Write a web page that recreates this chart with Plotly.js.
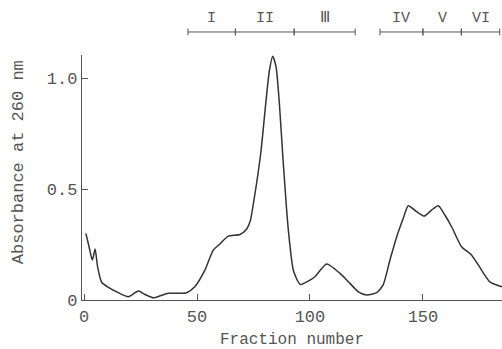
<!DOCTYPE html>
<html>
<head>
<meta charset="utf-8">
<script src="https://cdn.plot.ly/plotly-3.0.1.min.js"></script>
<style>html,body{margin:0;padding:0;background:#fff;}#chart{width:502px;height:349px;}</style>
</head>
<body>
<div id="chart"></div>
<script>
// Elution profile
const fraction = [0.8, 2, 3.7, 4.9, 6, 7.8, 10.8, 15.2, 19.6, 24, 27, 30.7, 34, 37.3, 42, 45.4, 49, 53.5, 57.2, 59.9, 63.7, 69, 72, 73.6, 75.1, 78.2, 80.5, 82, 83.5, 85, 86.5, 88.1, 90.4, 92.7, 95.7, 99.2, 102.2, 107.4, 113.3, 117.7, 121.4, 125.1, 129.5, 132.4, 135.4, 138.4, 141.3, 143.5, 147.2, 150.6, 153.8, 156.8, 159.7, 162.7, 167.1, 171.5, 174.5, 179.6, 185];
const absorbance = [0.30, 0.25, 0.18, 0.23, 0.15, 0.08, 0.057, 0.033, 0.015, 0.04, 0.025, 0.01, 0.02, 0.03, 0.03, 0.033, 0.06, 0.135, 0.225, 0.25, 0.287, 0.295, 0.32, 0.357, 0.443, 0.66, 0.893, 1.03, 1.098, 1.05, 0.88, 0.63, 0.318, 0.132, 0.07, 0.085, 0.105, 0.162, 0.12, 0.075, 0.037, 0.023, 0.033, 0.068, 0.18, 0.285, 0.368, 0.425, 0.398, 0.378, 0.405, 0.425, 0.383, 0.33, 0.24, 0.203, 0.158, 0.082, 0.06];

// Pooled fractions
const poolLabels = ["I", "II", "Ⅲ", "IV", "V", "VI"];
const poolStart = [46, 67, 93, 131, 150, 167];
const poolEnd   = [67, 93, 120, 150, 167, 184];

const xTicks = [0, 50, 100, 150];
const xTickText = ["0", "50", "100", "150"];
const yTicks = [0, 0.5, 1.0];
const yTickText = ["0", "0.5", "1.0"];

const FONT = "Liberation Mono, DejaVu Sans Mono, monospace";
const INK = "#555";

const shapes = [];
const annotations = [];
const barY = 1.094, tickH = 0.014;
for (let i = 0; i < poolLabels.length; i++) {
  shapes.push({type: "line", xref: "x", yref: "paper", x0: poolStart[i], x1: poolEnd[i], y0: barY, y1: barY,
               line: {color: INK, width: 1}});
  [poolStart[i], poolEnd[i]].forEach(b => shapes.push({type: "line", xref: "x", yref: "paper", x0: b, x1: b,
               y0: barY - tickH, y1: barY + tickH, line: {color: INK, width: 1}}));
  annotations.push({xref: "x", yref: "paper", x: (poolStart[i] + poolEnd[i]) / 2, y: 1.147,
                    text: poolLabels[i], showarrow: false, yanchor: "middle",
                    font: {family: FONT, size: 15, color: INK}});
}
// y-axis title (placed as rotated text, slightly above the plot centre as in the reference)
annotations.push({xref: "paper", yref: "paper", x: -0.152, y: 0.563, textangle: -90,
                  text: "Absorbance at 260 nm", showarrow: false, xanchor: "center", yanchor: "middle",
                  font: {family: FONT, size: 17, color: INK}});

const trace = {
  x: fraction, y: absorbance, type: "scatter", mode: "lines",
  line: {color: "#333", width: 1.5, shape: "spline", smoothing: 0.6},
  hoverinfo: "skip"
};

const layout = {
  width: 502, height: 349,
  margin: {l: 82, r: 0, t: 55, b: 49, pad: 0},
  paper_bgcolor: "#fff", plot_bgcolor: "#fff",
  showlegend: false,
  font: {family: FONT, color: INK, size: 16},
  xaxis: {
    range: [-0.9, 185], showgrid: false, zeroline: false,
    showline: true, linecolor: INK, linewidth: 1.2,
    ticks: "inside", ticklen: 6, tickcolor: INK, tickwidth: 1,
    tickvals: xTicks, ticktext: xTickText,
    tickfont: {family: FONT, size: 17, color: INK},
    title: {text: "Fraction number", font: {family: FONT, size: 16, color: INK}, standoff: 12}
  },
  yaxis: {
    range: [0, 1.104], showgrid: false, zeroline: false,
    showline: true, linecolor: INK, linewidth: 1.2,
    ticks: "inside", ticklen: 6, tickcolor: INK, tickwidth: 1,
    tickvals: yTicks, ticktext: yTickText,
    tickfont: {family: FONT, size: 17, color: INK}
  },
  shapes: shapes,
  annotations: annotations
};

Plotly.newPlot("chart", [trace], layout, {displayModeBar: false, staticPlot: true});
</script>
</body>
</html>
